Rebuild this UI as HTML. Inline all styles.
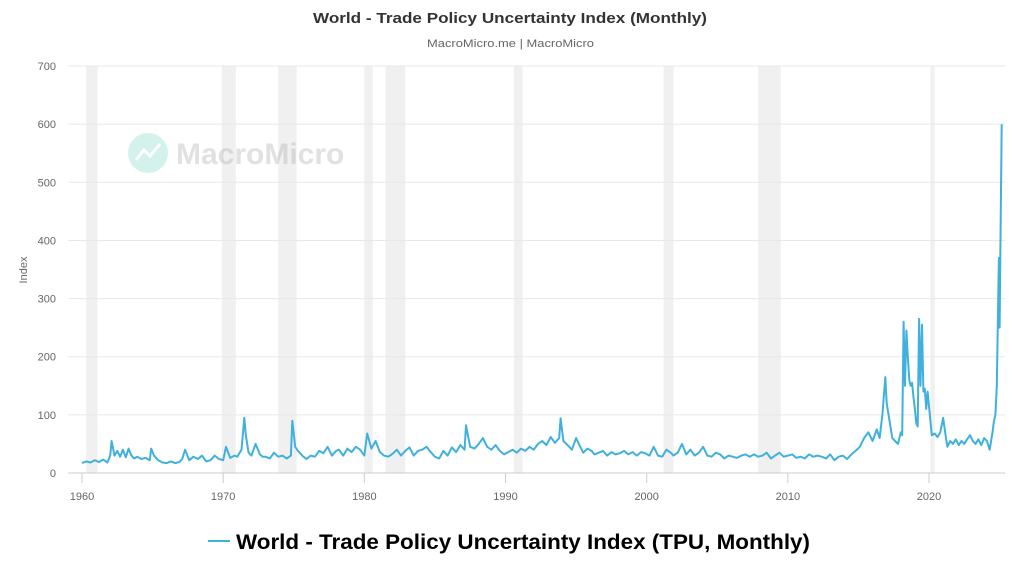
<!DOCTYPE html>
<html><head><meta charset="utf-8"><style>
body{margin:0;background:#fff;font-family:"Liberation Sans",sans-serif;}
svg{display:block}
</style></head><body>
<svg id="chart" width="1024" height="576" viewBox="0 0 1024 576">
<text x="313" y="23" textLength="394" lengthAdjust="spacingAndGlyphs" font-size="15" font-weight="bold" fill="#333">World - Trade Policy Uncertainty Index (Monthly)</text>
<text x="427" y="47" textLength="167" lengthAdjust="spacingAndGlyphs" font-size="11" fill="#666">MacroMicro.me | MacroMicro</text>
<g id="bands"></g>
<g id="grid"></g>
<g opacity="0.35">
<circle cx="148" cy="153" r="20" fill="#7fdcc8"/>
<polyline points="136,160 144,150 150,156 160,144" fill="none" stroke="#fff" stroke-width="3"/>
<text x="176" y="164" font-size="30" fill="#aaa" font-weight="bold">MacroMicro</text>
</g>
<text transform="translate(27,270) rotate(-90)" text-anchor="middle" font-size="11" fill="#666">Index</text>
<g id="yticks"></g>
<g id="xticks"></g>
<path id="line" fill="none" stroke="#40b0dc" stroke-width="2" stroke-linejoin="round"/>
<g>
<line x1="208" y1="541" x2="230" y2="541" stroke="#40b0dc" stroke-width="2"/>
<text x="236" y="549" textLength="574" lengthAdjust="spacingAndGlyphs" font-size="21" font-weight="bold" fill="#000">World - Trade Policy Uncertainty Index (TPU, Monthly)</text>
</g>
</svg>
<script>
const yTicks=[0,100,200,300,400,500,600,700];
const xTicks=[1960,1970,1980,1990,2000,2010,2020];
const recessions=[[1960.3,1961.1],[1969.9,1970.9],[1973.9,1975.2],[1980.0,1980.6],[1981.5,1982.9],[1990.6,1991.2],[2001.2,2001.9],[2007.9,2009.5],[2020.1,2020.4]];
const series=[
[1960,17],[1960.3,20],[1960.6,18],[1960.9,22],[1961.2,19],[1961.5,23],[1961.8,18],[1962.0,30],[1962.1,55],[1962.3,30],
[1962.5,38],[1962.7,28],[1962.9,40],[1963.1,27],[1963.3,42],[1963.5,30],[1963.7,25],[1963.9,28],[1964.2,24],[1964.5,26],
[1964.8,22],[1964.9,42],[1965.1,30],[1965.4,22],[1965.7,18],[1966.0,17],[1966.3,20],[1966.6,17],[1966.9,19],[1967.1,24],
[1967.3,40],[1967.6,22],[1967.9,28],[1968.2,24],[1968.5,30],[1968.8,20],[1969.1,22],[1969.4,30],[1969.7,24],[1970.0,22],
[1970.2,45],[1970.5,26],[1970.8,30],[1971.0,28],[1971.3,40],[1971.5,95],[1971.6,65],[1971.8,35],[1972.0,30],[1972.3,50],
[1972.6,32],[1972.8,28],[1973.0,28],[1973.3,25],[1973.6,35],[1973.9,28],[1974.2,30],[1974.5,25],[1974.8,30],[1974.9,90],
[1975.1,45],[1975.3,38],[1975.6,30],[1975.9,24],[1976.2,30],[1976.5,28],[1976.8,38],[1977.1,34],[1977.4,45],[1977.7,30],
[1978.0,38],[1978.2,40],[1978.5,30],[1978.8,42],[1979.1,36],[1979.4,45],[1979.7,40],[1980.0,30],[1980.2,68],[1980.5,42],
[1980.8,55],[1981.1,36],[1981.4,30],[1981.7,28],[1982.0,33],[1982.3,40],[1982.6,30],[1982.9,38],[1983.2,44],[1983.5,30],
[1983.8,38],[1984.1,40],[1984.4,45],[1984.7,36],[1985.0,28],[1985.3,25],[1985.6,38],[1985.9,30],[1986.2,44],[1986.5,36],
[1986.8,48],[1987.1,40],[1987.2,82],[1987.5,45],[1987.8,42],[1988.1,50],[1988.4,60],[1988.7,45],[1989.0,40],[1989.3,48],
[1989.6,38],[1989.9,32],[1990.2,36],[1990.5,40],[1990.8,35],[1991.1,42],[1991.4,38],[1991.7,45],[1992.0,40],[1992.3,50],
[1992.6,55],[1992.9,48],[1993.2,62],[1993.5,52],[1993.8,60],[1993.9,94],[1994.1,55],[1994.4,48],[1994.7,40],[1995.0,60],
[1995.3,45],[1995.5,35],[1995.8,42],[1996.1,38],[1996.3,32],[1996.6,35],[1996.9,38],[1997.2,30],[1997.5,36],[1997.8,32],
[1998.1,34],[1998.4,38],[1998.7,32],[1999.0,36],[1999.3,30],[1999.6,36],[1999.9,34],[2000.2,30],[2000.5,45],[2000.8,30],
[2001.1,28],[2001.4,40],[2001.7,35],[2001.9,30],[2002.2,35],[2002.5,50],[2002.8,32],[2003.1,40],[2003.4,30],[2003.7,35],
[2004.0,45],[2004.3,30],[2004.6,28],[2004.9,35],[2005.2,32],[2005.5,25],[2005.8,30],[2006.1,28],[2006.4,26],[2006.7,30],
[2007.0,32],[2007.3,28],[2007.6,32],[2007.9,28],[2008.2,30],[2008.5,35],[2008.8,25],[2009.1,30],[2009.4,35],[2009.7,28],
[2010.0,30],[2010.3,32],[2010.6,26],[2010.9,28],[2011.2,25],[2011.5,32],[2011.8,28],[2012.1,30],[2012.4,28],[2012.7,25],
[2013.0,32],[2013.3,22],[2013.6,28],[2013.9,30],[2014.2,24],[2014.5,32],[2014.8,38],[2015.1,45],[2015.4,60],[2015.7,70],
[2016.0,55],[2016.3,75],[2016.5,60],[2016.7,100],[2016.9,165],[2017.0,120],[2017.2,90],[2017.4,60],[2017.6,55],[2017.8,50],
[2018.0,70],[2018.1,65],[2018.2,260],[2018.3,150],[2018.4,245],[2018.5,200],[2018.6,160],[2018.7,150],[2018.8,155],[2018.9,130],
[2019.0,110],[2019.1,85],[2019.2,80],[2019.3,265],[2019.4,150],[2019.5,255],[2019.6,140],[2019.7,145],[2019.8,110],[2019.9,140],
[2020.0,115],[2020.2,65],[2020.4,68],[2020.6,62],[2020.8,70],[2021.0,95],[2021.2,60],[2021.3,45],[2021.5,55],[2021.7,50],
[2021.9,58],[2022.1,48],[2022.3,55],[2022.5,50],[2022.7,58],[2022.9,65],[2023.1,55],[2023.3,50],[2023.5,58],[2023.7,48],
[2023.9,60],[2024.1,55],[2024.3,40],[2024.5,70],[2024.6,90],[2024.7,100],[2024.8,150],[2024.95,370],[2025.0,250],[2025.05,370],[2025.15,600]
];
const X=y=>82+(y-1960)*14.117, Y=v=>473-v*0.5814;
const ns="http://www.w3.org/2000/svg";
const mk=(g,t,a)=>{const e=document.createElementNS(ns,t);for(const k in a)e.setAttribute(k,a[k]);document.getElementById(g).appendChild(e);return e;};
recessions.forEach(r=>{const e=mk('bands','rect',{x:X(r[0]),y:66,width:X(r[1])-X(r[0]),height:407,fill:'#f0f0f0'});

});
yTicks.forEach(v=>{const l=mk('grid','line',{x1:68,x2:1005,y1:Y(v),y2:Y(v),stroke:v?'#e8e8e8':'#ccc'});


const t=mk('yticks','text',{x:56,y:Y(v)+4,'text-anchor':'end','font-size':11,fill:'#666'});t.textContent=v;

});
xTicks.forEach(v=>{const l=mk('xticks','line',{x1:X(v),x2:X(v),y1:473,y2:483,stroke:'#ccc'});


const t=mk('xticks','text',{x:X(v),y:500,'text-anchor':'middle','font-size':11,fill:'#666'});t.textContent=v;

});
document.getElementById('line').setAttribute('d',series.map((p,i)=>(i?'L':'M')+X(p[0]).toFixed(1)+','+Y(p[1]).toFixed(1)).join(''));
</script>
</body></html>
